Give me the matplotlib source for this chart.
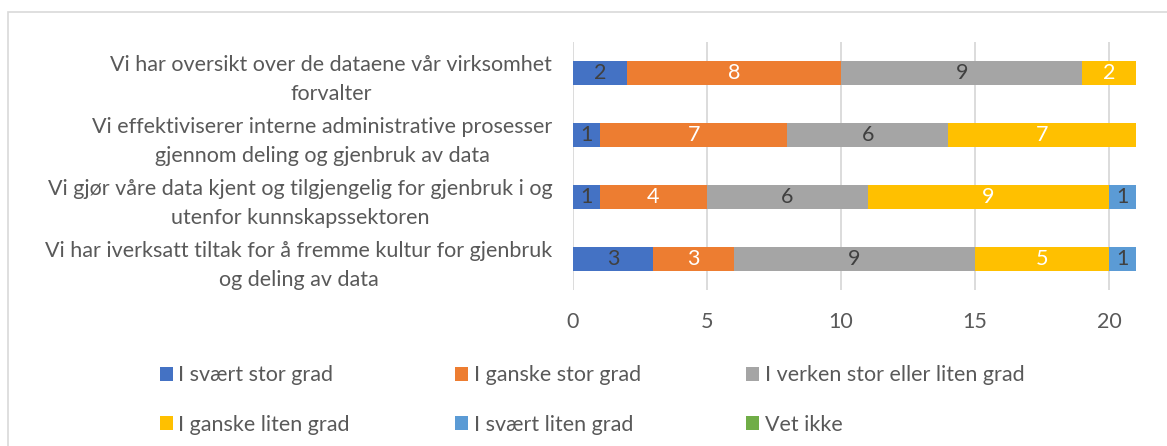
import numpy as np
import matplotlib
matplotlib.use('Agg')
import matplotlib.pyplot as plt
from matplotlib.patches import Rectangle

plt.rcParams['font.family'] = ['Lato', 'DejaVu Sans']

# survey statements, top to bottom as shown
statements = [
    "Vi har oversikt over de dataene vår virksomhet\nforvalter",
    "Vi effektiviserer interne administrative prosesser\ngjennom deling og gjenbruk av data",
    "Vi gjør våre data kjent og tilgjengelig for gjenbruk i og\nutenfor kunnskapssektoren",
    "Vi har iverksatt tiltak for å fremme kultur for gjenbruk\nog deling av data",
]

answer_labels = [
    "I svært stor grad",
    "I ganske stor grad",
    "I verken stor eller liten grad",
    "I ganske liten grad",
    "I svært liten grad",
    "Vet ikke",
]

svaert_stor = [2, 1, 1, 3]
ganske_stor = [8, 7, 4, 3]
verken = [9, 6, 6, 9]
ganske_liten = [2, 7, 9, 5]
svaert_liten = [0, 0, 1, 1]
vet_ikke = [0, 0, 0, 0]

series = [svaert_stor, ganske_stor, verken, ganske_liten, svaert_liten, vet_ikke]
colors = ['#4472C4', '#ED7D31', '#A5A5A5', '#FFC000', '#5B9BD5', '#70AD47']
label_colors = ['#404040', 'white', '#404040', 'white', '#404040', '#404040']

text_color = '#595959'
grid_color = '#D9D9D9'
fs = 15.5

fig = plt.figure(figsize=(11.67, 4.46), dpi=100)
ax = fig.add_axes([0.491, 0.3498, 0.9734 - 0.491, 0.9058 - 0.3498])

y = np.arange(len(statements))
left = np.zeros(len(statements))
handles = []
for vals, col, lcol, lab in zip(series, colors, label_colors, answer_labels):
    vals = np.array(vals, dtype=float)
    bars = ax.barh(y, vals, left=left, height=0.4, color=col, label=lab, zorder=3)
    handles.append(bars)
    for b, v in zip(bars, vals):
        if v > 0:
            ax.text(b.get_x() + b.get_width() / 2, b.get_y() + b.get_height() / 2,
                    f"{int(v)}", ha='center', va='center', color=lcol,
                    fontsize=fs, zorder=4)
    left += vals

ax.set_xlim(0, 21)
ax.set_ylim(len(statements) - 0.5, -0.5)
ax.set_xticks([0, 5, 10, 15, 20])
ax.set_yticks(y)
ax.set_yticklabels(statements, multialignment='center', linespacing=1.55)
ax.tick_params(axis='both', length=0, labelsize=fs, colors=text_color)
ax.tick_params(axis='x', pad=16)
ax.tick_params(axis='y', pad=15)
ax.xaxis.grid(True, color=grid_color, lw=1.3, zorder=0)
for s in ax.spines.values():
    s.set_visible(False)

# legend in Excel's row-major order
order = [0, 3, 1, 4, 2, 5]
fig.legend([handles[i] for i in order], [answer_labels[i] for i in order],
           ncol=3, loc='upper left', bbox_to_anchor=(0.128, 0.205),
           frameon=False, fontsize=fs, labelcolor=text_color,
           handlelength=0.6, handleheight=0.6, handletextpad=0.25,
           columnspacing=4.9, labelspacing=1.37, borderpad=0)

# outer chart border (cut off on right and bottom)
fig.patches.append(Rectangle((7.5 / 1167, -0.1), 1.2, 1.1 - 12.5 / 446,
                             transform=fig.transFigure, fill=False,
                             edgecolor=grid_color, lw=1.2))

fig.savefig('out.png', dpi=100)
